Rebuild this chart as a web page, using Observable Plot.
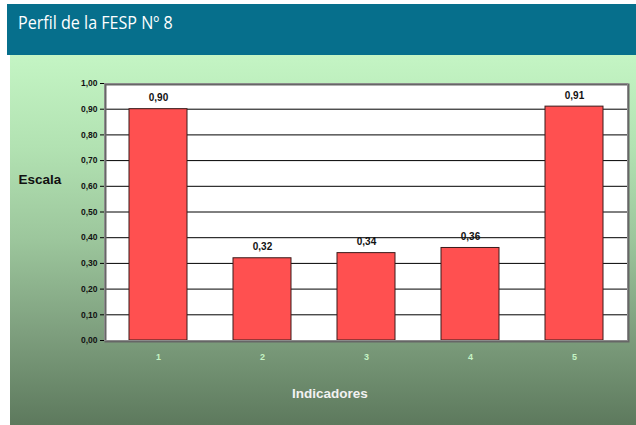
<!DOCTYPE html>
<html><head><meta charset="utf-8">
<script src="https://cdn.jsdelivr.net/npm/d3@7"></script>
<script src="https://cdn.jsdelivr.net/npm/@observablehq/plot@0.6"></script>
<style>
body{margin:0;background:#fff;}
#wrap{position:relative;width:636px;height:425px;overflow:hidden;background:#fff;}
#banner{position:absolute;left:7px;top:4px;width:629px;height:51px;background:#066f8c;}
#title{position:absolute;left:18px;top:9px;color:#fff;font:18.5px "Open Sans",sans-serif;white-space:nowrap;transform:scaleX(0.87);transform-origin:0 0;}
#bg{position:absolute;left:10px;top:55px;width:626px;height:370px;background:linear-gradient(#c4f5c4 0%,#b2e2b2 25%,#9cc69c 50%,#7e9f7e 75%,#5d795d 100%);}
#chart{position:absolute;left:0;top:0;}
</style></head>
<body>
<div id="wrap">
<div id="bg"></div>
<div id="banner"></div>
<div id="title">Perfil de la FESP Nº 8</div>
<div id="chart"></div>
</div>
<script>
const categories = [1, 2, 3, 4, 5];
const values = [0.90, 0.32, 0.34, 0.36, 0.91];
const yTicks = [0, 0.1, 0.2, 0.3, 0.4, 0.5, 0.6, 0.7, 0.8, 0.9, 1.0];
const yTitle = "Escala";
const xTitle = "Indicadores";

const data = categories.map((c, i) => ({cat: c, v: values[i]}));
const fmt = d => d.toFixed(2).replace(".", ",");
const font = "Liberation Sans, Arial, sans-serif";

const chart = Plot.plot({
  width: 636,
  height: 425,
  marginLeft: 104,
  marginRight: 9,
  marginTop: 83,
  marginBottom: 85,
  style: {background: "transparent", fontFamily: font, overflow: "visible"},
  x: {domain: categories, paddingInner: 0.445, paddingOuter: 0.2225, axis: null, label: null},
  y: {domain: [0, 1], axis: null, label: null},
  marks: [
    Plot.frame({fill: "white", stroke: "none"}),
    Plot.gridY(yTicks, {stroke: "black", strokeOpacity: 1, strokeWidth: 1}),
    Plot.barY(data, {x: "cat", y: "v", fill: "#ff5050", stroke: "#3a1a1a", strokeWidth: 1}),
    Plot.frame({stroke: "#666", strokeWidth: 2, dx: 1, dy: 1, fill: "none"}),
    Plot.frame({stroke: "#8a8a8a", strokeWidth: 1, fill: "none"}),
    Plot.axisY(yTicks, {tickSize: 4, tickFormat: fmt, stroke: "black", fill: "#111", fontWeight: "bold", fontSize: 8.5, tickPadding: 3, label: null}),
    Plot.axisX(categories, {tickSize: 0, tickPadding: 13, fill: "#c4f4c4", fontWeight: "bold", fontSize: 9, label: null}),
    Plot.text(data, {x: "cat", y: "v", text: d => fmt(d.v), dy: -11, fontWeight: "bold", fontSize: 10, fill: "#111"}),
    Plot.text([yTitle], {frameAnchor: "left", dx: -86, dy: -32, text: d => d, textAnchor: "start", fontWeight: "bold", fontSize: 13.5, fill: "#111"}),
    Plot.text([xTitle], {frameAnchor: "bottom", dx: -36, dy: 57, text: d => d, fontWeight: "bold", fontSize: 13.5, fill: "#f2f2f2"})
  ]
});
document.getElementById("chart").appendChild(chart);
</script>
</body></html>
